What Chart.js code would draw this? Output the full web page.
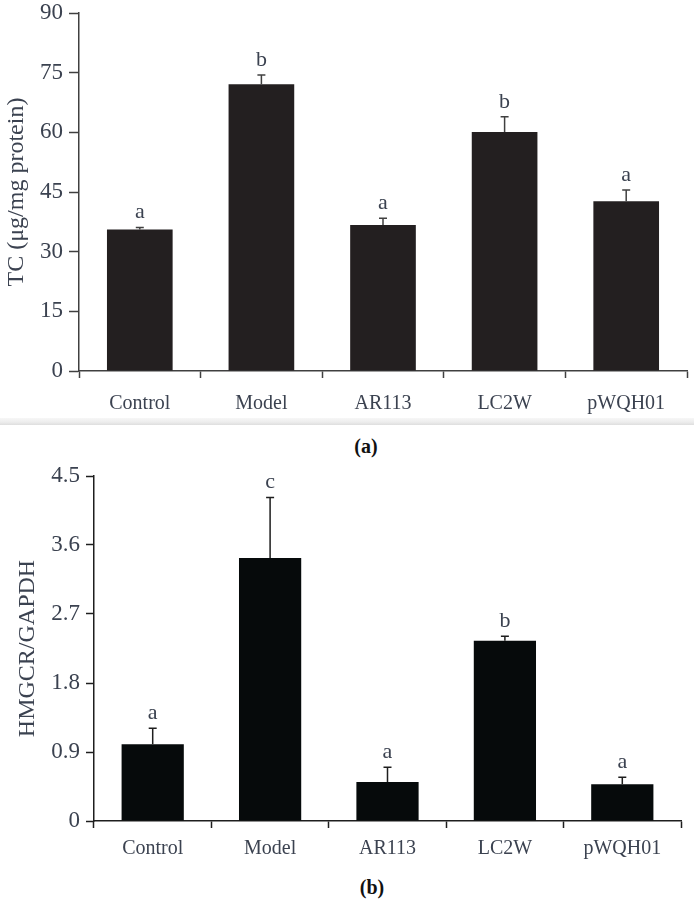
<!DOCTYPE html>
<html>
<head>
<meta charset="utf-8">
<script src="https://cdn.jsdelivr.net/npm/chart.js@4.4.0/dist/chart.umd.min.js"></script>
<style>
  body { margin: 0; background: #fff; width: 694px; height: 905px; position: relative; overflow: hidden; }
  .box { position: absolute; left: 0; }
  .sep { position: absolute; left: 0; top: 418px; width: 694px; height: 7px;
         background: linear-gradient(#f7f7f7, #ececec 60%, #dedede); }
  .cap { position: absolute; font-family: "Liberation Serif", serif; font-weight: bold;
         font-size: 20px; color: #111; transform: translate(-50%, -50%); }
</style>
</head>
<body>
<div class="box" style="top:0px"><canvas id="chartA" width="694" height="418"></canvas></div>
<div class="sep"></div>
<div class="cap" style="left:366px; top:446px">(a)</div>
<div class="box" style="top:460px"><canvas id="chartB" width="694" height="400"></canvas></div>
<div class="cap" style="left:372px; top:887px">(b)</div>
<script>
const categories = ['Control', 'Model', 'AR113', 'LC2W', 'pWQH01'];

// (a) TC content
const tcMeans = [35.6, 72.1, 36.7, 60.1, 42.7];
const tcErrors = [0.5, 2.3, 1.7, 3.8, 2.8];
const tcLetters = ['a', 'b', 'a', 'b', 'a'];

// (b) HMGCR / GAPDH
const hmgcrMeans = [1.00, 3.43, 0.51, 2.35, 0.48];
const hmgcrErrors = [0.21, 0.79, 0.19, 0.06, 0.09];
const hmgcrLetters = ['a', 'c', 'a', 'b', 'a'];

const serif = '"Liberation Serif", "Times New Roman", serif';
const textColor = '#3b4250';

// error bars + significance letters, drawn from the y scale
const errorBars = {
  id: 'errorBars',
  afterDatasetsDraw(chart, args, opts) {
    const ctx = chart.ctx;
    const y = chart.scales.y;
    const meta = chart.getDatasetMeta(0);
    ctx.save();
    meta.data.forEach((bar, i) => {
      const top = y.getPixelForValue(opts.means[i] + opts.errors[i]);
      ctx.strokeStyle = opts.color;
      ctx.lineWidth = 1.5;
      ctx.beginPath();
      ctx.moveTo(bar.x, bar.y);
      ctx.lineTo(bar.x, top);
      ctx.moveTo(bar.x - 4, top);
      ctx.lineTo(bar.x + 4, top);
      ctx.stroke();
      ctx.fillStyle = textColor;
      ctx.font = '22px ' + serif;
      ctx.textAlign = 'center';
      ctx.textBaseline = 'alphabetic';
      ctx.fillText(opts.letters[i], bar.x, top - 9);
    });
    ctx.restore();
  }
};

function makeChart (id, means, errors, letters, cfg) {
  return new Chart(document.getElementById(id), {
    type: 'bar',
    data: {
      labels: categories,
      datasets: [{
        data: means,
        backgroundColor: cfg.barColor,
        borderWidth: 0,
        categoryPercentage: 1,
        barPercentage: cfg.barPct
      }]
    },
    options: {
      responsive: false,
      animation: false,
      devicePixelRatio: 1,
      layout: { padding: cfg.padding },
      plugins: {
        legend: { display: false },
        tooltip: { enabled: false },
        errorBars: { means: means, errors: errors, letters: letters, color: cfg.axisColor }
      },
      scales: {
        x: {
          grid: { drawOnChartArea: false, drawTicks: true, tickLength: 7, color: cfg.axisColor, tickWidth: 1.5, offset: true },
          border: { color: cfg.axisColor, width: 1.5 },
          ticks: { color: textColor, font: { family: serif, size: 20 }, padding: cfg.xPad, maxRotation: 0 },
          afterFit: (s) => { s.height = cfg.xHeight; }
        },
        y: {
          min: 0,
          max: cfg.max,
          grid: { drawOnChartArea: false, drawTicks: true, tickLength: cfg.yTick, color: cfg.axisColor, tickWidth: 1.5 },
          border: { color: cfg.axisColor, width: 1.5 },
          ticks: {
            stepSize: cfg.step,
            color: textColor,
            padding: 6,
            font: { family: serif, size: 23 },
            callback: (v) => v === 0 ? '0' : (Number.isInteger(cfg.step) ? String(Math.round(v)) : v.toFixed(1))
          },
          title: {
            display: true,
            text: cfg.title,
            color: textColor,
            font: { family: serif, size: 24 },
            padding: { top: cfg.titlePad, bottom: 0 }
          },
          afterFit: (s) => { s.width = cfg.yWidth; s.paddingTop = 0; s.paddingBottom = 0; }
        }
      }
    },
    plugins: [errorBars]
  });
}

makeChart('chartA', tcMeans, tcErrors, tcLetters, {
  barColor: '#231f20', axisColor: '#404040', barPct: 0.54,
  padding: { left: 0, right: 7, top: 13, bottom: 0 },
  xHeight: 47, xPad: 14, yTick: 10, yWidth: 79,
  max: 90, step: 15, title: 'TC (μg/mg protein)', titlePad: 2
});

makeChart('chartB', hmgcrMeans, hmgcrErrors, hmgcrLetters, {
  barColor: '#060a0b', axisColor: '#1e1e1e', barPct: 0.53,
  padding: { left: 0, right: 13, top: 16, bottom: 0 },
  xHeight: 39, xPad: 9, yTick: 8, yWidth: 94,
  max: 4.5, step: 0.9, title: 'HMGCR/GAPDH', titlePad: 13
});
</script>
</body>
</html>
